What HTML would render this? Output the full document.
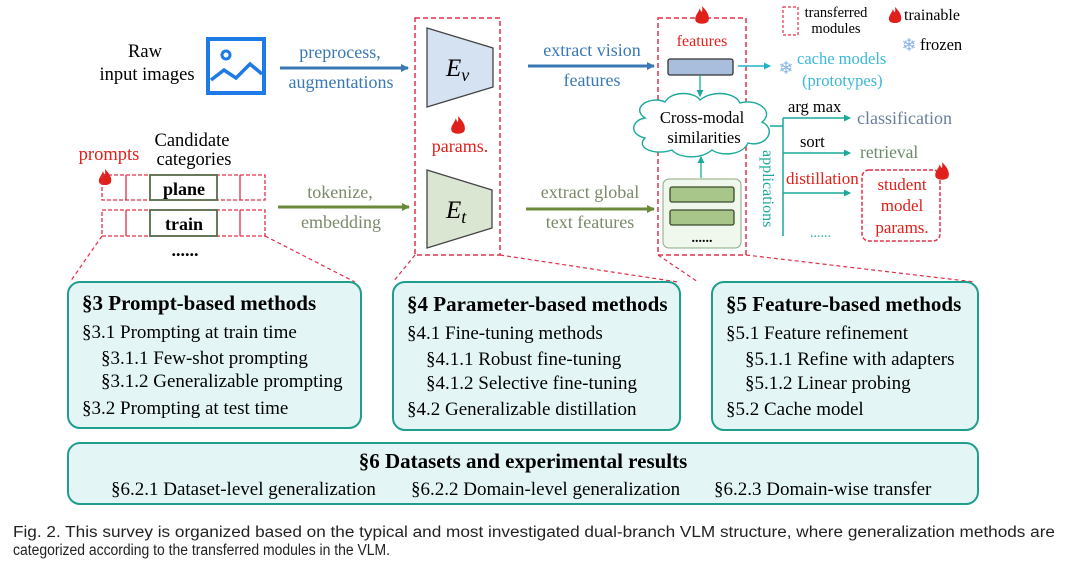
<!DOCTYPE html>
<html><head><meta charset="utf-8"><style>
body{margin:0;background:#fff;width:1080px;height:575px;overflow:hidden}
svg{display:block}
text{font-family:"Liberation Serif",serif}
.cap{font-family:"Liberation Sans",sans-serif;font-size:15.5px;fill:#222}
</style></head><body>
<svg width="1080" height="575" viewBox="0 0 1080 575">
<defs>
<marker id="ab" markerWidth="8" markerHeight="8" refX="7" refY="4" orient="auto" markerUnits="userSpaceOnUse"><path d="M0,0L8,4L0,8z" fill="#3a78b5"/></marker>
<marker id="ag" markerWidth="8" markerHeight="8" refX="7" refY="4" orient="auto" markerUnits="userSpaceOnUse"><path d="M0,0L8,4L0,8z" fill="#6a8a3a"/></marker>
<marker id="at" markerWidth="7" markerHeight="7" refX="6" refY="3.5" orient="auto" markerUnits="userSpaceOnUse"><path d="M0,0L7,3.5L0,7z" fill="#1aa99a"/></marker>
<marker id="ac" markerWidth="7" markerHeight="7" refX="6" refY="3.5" orient="auto" markerUnits="userSpaceOnUse"><path d="M0,0L7,3.5L0,7z" fill="#1fb3c8"/></marker>
<g id="flame"><path d="M0,-9 C5,-4 7,0 6,4 C5,8 -5,8 -6,4 C-7,0 -3,-3 -2,-7 C-1,-3 1,-2 0,-9z" fill="#e0201a"/></g>
</defs>

<!-- top left -->
<text x="145" y="57" font-size="18.5" text-anchor="middle">Raw</text>
<text x="147" y="80" font-size="18.5" text-anchor="middle">input images</text>
<rect x="208" y="39" width="56" height="54" fill="none" stroke="#1e7ae6" stroke-width="4"/>
<circle cx="226" cy="55" r="4" fill="none" stroke="#1e7ae6" stroke-width="3"/>
<polyline points="211,80 224,70 236,78 250,64 262,74" fill="none" stroke="#1e7ae6" stroke-width="3.5"/>
<line x1="280" y1="68" x2="408" y2="68" stroke="#3a78b5" stroke-width="3" marker-end="url(#ab)"/>
<text x="340" y="58" font-size="18" fill="#3a78b5" text-anchor="middle">preprocess,</text>
<text x="341" y="88" font-size="18" fill="#3a78b5" text-anchor="middle">augmentations</text>

<!-- prompts -->
<text x="109" y="160" font-size="18.5" fill="#e0201a" text-anchor="middle">prompts</text>
<text x="192" y="146" font-size="18.5" text-anchor="middle">Candidate</text>
<text x="194" y="165" font-size="18.5" text-anchor="middle">categories</text>
<use href="#flame" transform="translate(105,178)"/>
<g fill="none" stroke="#e0304a" stroke-width="1.3" stroke-dasharray="4,2">
<rect x="102" y="175" width="163" height="25"/>
<rect x="102" y="210" width="163" height="26"/>
</g>
<g stroke="#e0304a" stroke-width="1.3">
<line x1="126" y1="175" x2="126" y2="200"/><line x1="240" y1="175" x2="240" y2="200"/>
<line x1="126" y1="210" x2="126" y2="236"/><line x1="240" y1="210" x2="240" y2="236"/>
</g>
<rect x="150" y="175" width="67" height="25" fill="#fff" stroke="#5a6b4a" stroke-width="1.8"/>
<rect x="150" y="210" width="67" height="26" fill="#fff" stroke="#5a6b4a" stroke-width="1.8"/>
<text x="184" y="195" font-size="18" font-weight="bold" text-anchor="middle">plane</text>
<text x="184" y="230" font-size="18" font-weight="bold" text-anchor="middle">train</text>
<text x="185" y="256" font-size="18" font-weight="bold" text-anchor="middle">......</text>
<line x1="278" y1="207" x2="409" y2="207" stroke="#6a8a3a" stroke-width="3" marker-end="url(#ag)"/>
<text x="340" y="198" font-size="18" fill="#7a8a6a" text-anchor="middle">tokenize,</text>
<text x="341" y="228" font-size="18" fill="#7a8a6a" text-anchor="middle">embedding</text>

<!-- encoders -->
<rect x="415" y="18" width="85" height="237" fill="none" stroke="#e0304a" stroke-width="1.5" stroke-dasharray="5,3"/>
<polygon points="427,28 493,48 493,87 427,107" fill="#d5e2f2" stroke="#444" stroke-width="1.3"/>
<text x="446" y="76" font-size="25" font-style="italic">E<tspan font-size="18" dy="5">v</tspan></text>
<use href="#flame" transform="translate(458,126) scale(1.1)"/>
<text x="460" y="152" font-size="18" fill="#e0201a" text-anchor="middle">params.</text>
<polygon points="427,170 492,190 492,228 427,248" fill="#dbe6d2" stroke="#444" stroke-width="1.3"/>
<text x="446" y="218" font-size="25" font-style="italic">E<tspan font-size="18" dy="5">t</tspan></text>

<line x1="528" y1="66" x2="654" y2="66" stroke="#3a78b5" stroke-width="3" marker-end="url(#ab)"/>
<text x="592" y="56" font-size="18" fill="#3a78b5" text-anchor="middle">extract vision</text>
<text x="592" y="86" font-size="18" fill="#3a78b5" text-anchor="middle">features</text>
<line x1="526" y1="209" x2="654" y2="209" stroke="#6a8a3a" stroke-width="3" marker-end="url(#ag)"/>
<text x="590" y="198" font-size="18" fill="#7a8a6a" text-anchor="middle">extract global</text>
<text x="590" y="228" font-size="18" fill="#7a8a6a" text-anchor="middle">text features</text>

<!-- features -->
<rect x="658" y="18" width="88" height="237" fill="none" stroke="#e0304a" stroke-width="1.5" stroke-dasharray="5,3"/>
<use href="#flame" transform="translate(702,16) scale(1.1)"/>
<text x="702" y="46" font-size="16" fill="#e0201a" text-anchor="middle">features</text>
<rect x="668" y="59" width="65" height="16" rx="2" fill="#a9bedc" stroke="#333" stroke-width="1.3"/>
<line x1="738" y1="66" x2="770" y2="66" stroke="#1fb3c8" stroke-width="1.5" marker-end="url(#ac)"/>
<text x="786" y="74" font-size="18" fill="#8ab4e8" text-anchor="middle">❄</text>
<text x="797" y="64" font-size="16.5" fill="#3ab8d8">cache models</text>
<text x="802" y="86" font-size="16.5" fill="#3ab8d8">(prototypes)</text>
<line x1="700" y1="75" x2="700" y2="96" stroke="#1aa99a" stroke-width="1.3" marker-end="url(#at)"/>
<path d="M645,118 C630,108 650,95 665,102 C672,90 695,92 700,100 C712,90 735,92 740,103 C758,98 775,112 762,122 C778,130 765,148 748,143 C742,156 720,156 712,150 C700,160 678,158 672,150 C655,156 635,148 645,138 C628,134 632,120 645,118z" fill="#fff" stroke="#1aa99a" stroke-width="1.4"/>
<text x="702" y="123" font-size="16.5" text-anchor="middle">Cross-modal</text>
<text x="704" y="143" font-size="16.5" text-anchor="middle">similarities</text>
<line x1="701" y1="178" x2="701" y2="157" stroke="#1aa99a" stroke-width="1.3" marker-end="url(#at)"/>
<rect x="663" y="179" width="78" height="69" rx="6" fill="#f0f7ec" stroke="#8aa880" stroke-width="1"/>
<rect x="670" y="187" width="64" height="15" rx="2" fill="#a8c58a" stroke="#3a4a2a" stroke-width="1.3"/>
<rect x="670" y="210" width="64" height="15" rx="2" fill="#a8c58a" stroke="#3a4a2a" stroke-width="1.3"/>
<text x="702" y="242" font-size="14" font-weight="bold" text-anchor="middle">......</text>

<!-- applications -->
<g stroke="#1aa99a" stroke-width="1.5" fill="none">
<line x1="770" y1="126" x2="783" y2="126"/>
<line x1="783" y1="118" x2="783" y2="236"/>
<line x1="783" y1="118" x2="850" y2="118" marker-end="url(#at)"/>
<line x1="783" y1="153" x2="850" y2="153" marker-end="url(#at)"/>
<line x1="783" y1="193" x2="850" y2="193" marker-end="url(#at)"/>
</g>
<text x="788" y="112" font-size="16.5">arg max</text>
<text x="857" y="124" font-size="18" fill="#6a7f9a">classification</text>
<text x="800" y="147" font-size="16.5">sort</text>
<text x="860" y="158" font-size="17.5" fill="#6a8a6a">retrieval</text>
<text x="786" y="184" font-size="17" fill="#e0201a">distillation</text>
<text x="810" y="237" font-size="14" fill="#1aa99a">......</text>
<text transform="translate(763,150) rotate(90)" font-size="16" fill="#1aa99a">applications</text>
<rect x="862" y="170" width="78" height="71" rx="7" fill="none" stroke="#e0304a" stroke-width="1.5" stroke-dasharray="4,2"/>
<text x="902" y="190" font-size="17" fill="#e0201a" text-anchor="middle">student</text>
<text x="902" y="211" font-size="17" fill="#e0201a" text-anchor="middle">model</text>
<text x="902" y="233" font-size="17" fill="#e0201a" text-anchor="middle">params.</text>
<use href="#flame" transform="translate(942,172) scale(1.1)"/>

<!-- legend -->
<rect x="783" y="7" width="15" height="28" fill="none" stroke="#e0304a" stroke-width="1.2" stroke-dasharray="3,2"/>
<text x="836" y="17" font-size="14.5" text-anchor="middle">transferred</text>
<text x="836" y="33" font-size="14.5" text-anchor="middle">modules</text>
<use href="#flame" transform="translate(895,16)"/>
<text x="904" y="20" font-size="16">trainable</text>
<text x="909" y="51" font-size="18" fill="#8ab4e8" text-anchor="middle">❄</text>
<text x="920" y="50" font-size="16.5">frozen</text>

<!-- dashed connectors -->
<g stroke="#e0304a" stroke-width="1.2" stroke-dasharray="4,3" fill="none">
<line x1="102" y1="236" x2="70" y2="282"/>
<line x1="265" y1="236" x2="355" y2="282"/>
<line x1="415" y1="255" x2="393" y2="282"/>
<line x1="500" y1="255" x2="678" y2="282"/>
<line x1="658" y1="255" x2="698" y2="282"/>
<line x1="746" y1="255" x2="975" y2="282"/>
</g>

<!-- method boxes -->
<g fill="#e3f6f5" stroke="#1f9e8e" stroke-width="2">
<rect x="68" y="282" width="293" height="146" rx="12"/>
<rect x="393" y="282" width="287" height="148" rx="12"/>
<rect x="712" y="282" width="266" height="148" rx="12"/>
<rect x="68" y="443" width="910" height="61" rx="12"/>
</g>
<g font-size="19">
<text x="82" y="310" font-size="21" font-weight="bold">§3 Prompt-based methods</text>
<text x="82" y="338">§3.1 Prompting at train time</text>
<text x="101" y="364">§3.1.1 Few-shot prompting</text>
<text x="101" y="387">§3.1.2 Generalizable prompting</text>
<text x="82" y="414">§3.2 Prompting at test time</text>
<text x="407" y="311" font-size="21" font-weight="bold">§4 Parameter-based methods</text>
<text x="407" y="339">§4.1 Fine-tuning methods</text>
<text x="426" y="365">§4.1.1 Robust fine-tuning</text>
<text x="426" y="389">§4.1.2 Selective fine-tuning</text>
<text x="407" y="415">§4.2 Generalizable distillation</text>
<text x="726" y="311" font-size="21" font-weight="bold">§5 Feature-based methods</text>
<text x="726" y="339">§5.1 Feature refinement</text>
<text x="745" y="365">§5.1.1 Refine with adapters</text>
<text x="745" y="389">§5.1.2 Linear probing</text>
<text x="726" y="415">§5.2 Cache model</text>
<text x="523" y="468" font-size="21" font-weight="bold" text-anchor="middle">§6 Datasets and experimental results</text>
<text x="111" y="495">§6.2.1 Dataset-level generalization</text>
<text x="411" y="495">§6.2.2 Domain-level generalization</text>
<text x="714" y="495">§6.2.3 Domain-wise transfer</text>
</g>

<text x="13" y="537" class="cap" textLength="1042" lengthAdjust="spacingAndGlyphs">Fig. 2. This survey is organized based on the typical and most investigated dual-branch VLM structure, where generalization methods are</text>
<text x="13" y="555" class="cap" textLength="377" lengthAdjust="spacingAndGlyphs">categorized according to the transferred modules in the VLM.</text>
</svg>
</body></html>
